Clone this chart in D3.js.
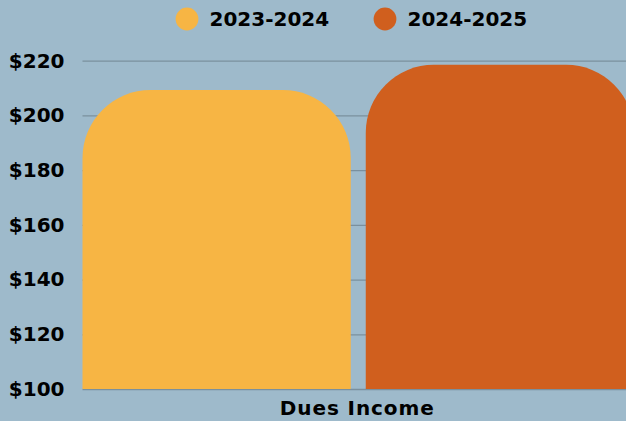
<!DOCTYPE html>
<html>
<head>
    <meta charset="utf-8">
    <script src="https://d3js.org/d3.v7.min.js"></script>
    <style>
        html, body { margin: 0; padding: 0; background: #9ebacb; overflow: hidden; }
        svg { display: block; font-family: "DejaVu Sans", sans-serif; font-weight: bold; }
    </style>
</head>
<body>
<script>
    // data
    var categories = ["Dues Income"];
    var series = ["2023-2024", "2024-2025"];
    var values = [209.3, 218.5];
    var yTicks = [100, 120, 140, 160, 180, 200, 220];
    var colors = ["#f7b544", "#d05f1e"];

    var W = 626, H = 421;
    var margin = {top: 61, left: 82.5, bottom: 32};
    var plotRight = 634;   // the right bar runs a bit past the window edge

    var svg = d3.select("body").append("svg")
        .attr("width", W)
        .attr("height", H);

    var x0 = d3.scaleBand().domain(categories).range([margin.left, plotRight]).padding(0);
    var x1 = d3.scaleBand().domain(series).range([0, x0.bandwidth()]).paddingInner(0.053).paddingOuter(0);
    var y = d3.scaleLinear().domain([100, 220]).range([H - margin.bottom, margin.top - 0.3]);
    var color = d3.scaleOrdinal().domain(series).range(colors);

    // gridlines + labels
    var yAxis = d3.axisLeft(y)
        .tickValues(yTicks)
        .tickFormat(function(d) { return "$" + d; })
        .tickSizeInner(-(W - margin.left))
        .tickSizeOuter(0)
        .tickPadding(18);

    var gy = svg.append("g")
        .attr("transform", "translate(" + margin.left + ",0)")
        .call(yAxis);
    gy.select(".domain").remove();
    gy.selectAll(".tick line").attr("stroke", "#7a909e").attr("stroke-width", 1.3);
    gy.selectAll(".tick text")
        .attr("fill", "#000")
        .style("font-size", "20px")
        .style("font-family", "DejaVu Sans")
        .style("font-weight", "bold");

    // rounded-top bar
    function topRounded(x, yTop, w, yBot, r) {
        r = Math.min(r, w / 2, yBot - yTop);
        return "M" + x + "," + yBot +
            "V" + (yTop + r) +
            "A" + r + "," + r + " 0 0 1 " + (x + r) + "," + yTop +
            "H" + (x + w - r) +
            "A" + r + "," + r + " 0 0 1 " + (x + w) + "," + (yTop + r) +
            "V" + yBot + "Z";
    }

    var rows = series.map(function(s, i) { return {cat: categories[0], key: s, value: values[i]}; });

    svg.append("g").selectAll("path")
        .data(rows)
      .enter().append("path")
        .attr("fill", function(d) { return color(d.key); })
        .attr("d", function(d) {
            return topRounded(x0(d.cat) + x1(d.key), y(d.value), x1.bandwidth(), y(100), 68);
        });

    // x label
    svg.append("text")
        .attr("x", x0(categories[0]) + x0.bandwidth() / 2 - 1)
        .attr("y", 415)
        .attr("text-anchor", "middle")
        .style("font-size", "20px")
        .style("letter-spacing", "0.9px")
        .text(categories[0]);

    // legend
    var legend = svg.selectAll(".legend")
        .data(series)
      .enter().append("g")
        .attr("class", "legend")
        .attr("transform", function(d, i) { return "translate(" + (187 + i * 198) + ",19)"; });

    legend.append("circle")
        .attr("r", 11.4)
        .attr("fill", function(d) { return color(d); });

    legend.append("text")
        .attr("x", 22.5)
        .attr("dy", "0.36em")
        .style("font-size", "20px")
        .text(function(d) { return d; });
</script>
</body>
</html>
